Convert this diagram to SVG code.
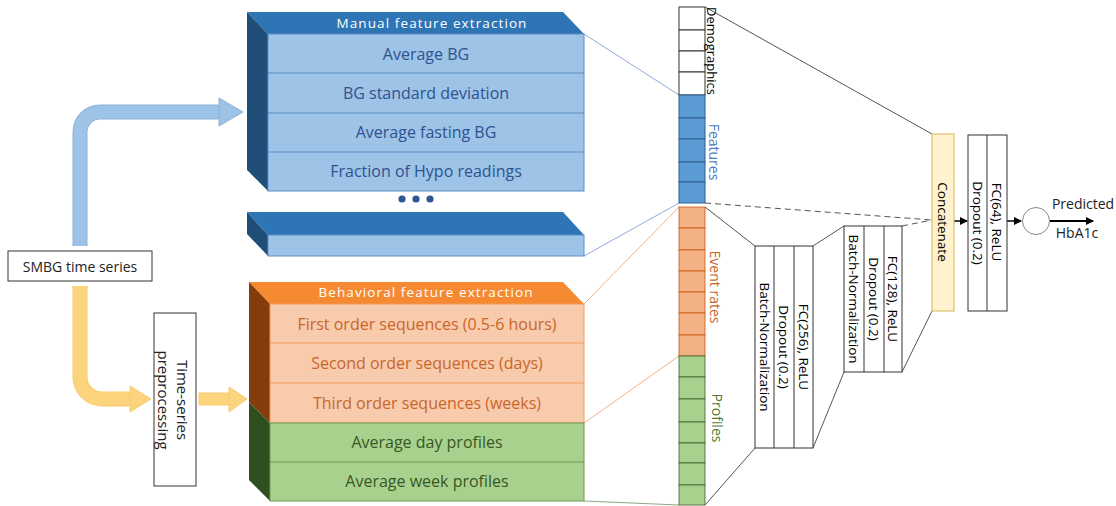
<svg xmlns="http://www.w3.org/2000/svg" width="1116" height="506" viewBox="0 0 1116 506">
<style>
.f{font-family:"Open Sans","Liberation Sans",sans-serif}
.c{text-anchor:middle;dominant-baseline:central}
.row{font-size:16px}
.hdr{font-size:13.5px;fill:#ffffff;letter-spacing:1.1px}
.net{font-size:13.5px;fill:#000}
.box{fill:#fff;stroke:#333;stroke-width:1}
.ln{stroke:#555;stroke-width:1;fill:none}
</style>
<defs>
<marker id="ah" markerWidth="8" markerHeight="8" refX="7" refY="4" orient="auto" markerUnits="userSpaceOnUse">
<path d="M0,0 L8,4 L0,8 z" fill="#000"/>
</marker>
</defs>
<rect width="1116" height="506" fill="#fff"/>

<g id="connectors">
<!-- big arrows -->
<path d="M80,246 V132 A20,20 0 0 1 100,112 H221" fill="none" stroke="#8fb3dc" stroke-width="15"/>
<path d="M80,246 V132 A20,20 0 0 1 100,112 H222" fill="none" stroke="#9dc3e6" stroke-width="13"/>
<polygon points="219,98 243,112 219,126" fill="#9dc3e6" stroke="#8fb3dc" stroke-width="1"/>
<path d="M80,286 V377 A22,22 0 0 0 102,399 H132" fill="none" stroke="#f8cc6c" stroke-width="15"/>
<path d="M80,286 V377 A22,22 0 0 0 102,399 H133" fill="none" stroke="#fdd47e" stroke-width="13"/>
<polygon points="130,386 151,399 130,412" fill="#fdd47e" stroke="#f8cc6c" stroke-width="1"/>
<rect x="199" y="393" width="31" height="12" fill="#fdd47e" stroke="#f8cc6c" stroke-width="1"/>
<polygon points="229,387 247,399 229,412" fill="#fdd47e" stroke="#f8cc6c" stroke-width="1"/>
<!-- block to column -->
<line x1="584" y1="34" x2="679" y2="95" stroke="#8faadc" stroke-width="1"/>
<line x1="584" y1="256" x2="679" y2="203" stroke="#8faadc" stroke-width="1"/>
<line x1="584" y1="304" x2="679" y2="207" stroke="#f4b183" stroke-width="1"/>
<line x1="584" y1="423" x2="679" y2="356" stroke="#f4b183" stroke-width="1"/>
<line x1="584" y1="501" x2="679" y2="505" stroke="#8fa88a" stroke-width="1"/>
<!-- column to network -->
<line class="ln" x1="705" y1="7" x2="932" y2="134"/>
<line class="ln" x1="705" y1="203" x2="932" y2="220" stroke-dasharray="6,4"/>
<line class="ln" x1="705" y1="207" x2="755" y2="246"/>
<line class="ln" x1="705" y1="505" x2="755" y2="448"/>
<line class="ln" x1="813" y1="246" x2="844" y2="226"/>
<line class="ln" x1="813" y1="448" x2="844" y2="372"/>
<line class="ln" x1="902" y1="226" x2="932" y2="220" stroke-dasharray="6,4"/>
<line class="ln" x1="902" y1="372" x2="932" y2="311"/>
<line x1="954" y1="221" x2="967" y2="221" stroke="#000" stroke-width="1.5" marker-end="url(#ah)"/>
<line x1="1007" y1="221" x2="1021" y2="221" stroke="#000" stroke-width="1.5" marker-end="url(#ah)"/>
<line x1="1050" y1="221" x2="1093" y2="221" stroke="#000" stroke-width="2" marker-end="url(#ah)"/>
</g>

<g id="smbg">
<rect x="8" y="251" width="144" height="30" class="box"/>
<text x="80" y="266" class="f c" font-size="14" fill="#222">SMBG time series</text>
</g>

<g id="preproc">
<rect x="154" y="313" width="42" height="173" class="box"/>
<text class="f c" font-size="15" fill="#222" transform="translate(183,400) rotate(90)">Time-series</text>
<text class="f c" font-size="15" fill="#222" transform="translate(164,400) rotate(90)">preprocessing</text>
</g>

<g id="manual">
<polygon points="247,12 563,12 584,34 268,34" fill="#2e75b6"/>
<polygon points="247,12 268,34 268,191 247,170" fill="#1f4e79"/>
<rect x="268" y="34" width="316" height="157" fill="#9dc3e6" stroke="#5b8ec6" stroke-width="1"/>
<line x1="268" y1="73" x2="584" y2="73" stroke="#5b8ec6"/>
<line x1="268" y1="113" x2="584" y2="113" stroke="#5b8ec6"/>
<line x1="268" y1="152" x2="584" y2="152" stroke="#5b8ec6"/>
<text x="432" y="23" class="f c hdr">Manual feature extraction</text>
<g class="f c row" fill="#2f5290">
<text x="426" y="54">Average BG</text>
<text x="426" y="93">BG standard deviation</text>
<text x="426" y="132">Average fasting BG</text>
<text x="426" y="171">Fraction of Hypo readings</text>
</g>
<circle cx="402" cy="199" r="3.6" fill="#2f5597"/>
<circle cx="416" cy="199" r="3.6" fill="#2f5597"/>
<circle cx="430" cy="199" r="3.6" fill="#2f5597"/>
</g>

<g id="manual2">
<polygon points="247,212 563,212 584,235 268,235" fill="#2e75b6"/>
<polygon points="247,212 268,235 268,256 247,234" fill="#1f4e79"/>
<rect x="268" y="235" width="316" height="21" fill="#9dc3e6" stroke="#5b8ec6" stroke-width="1"/>
</g>

<g id="behavioral">
<polygon points="249,282 563,282 584,304 270,304" fill="#f58a33"/>
<polygon points="249,282 270,304 270,423 249,402" fill="#843c0c"/>
<polygon points="249,402 270,423 270,501 249,480" fill="#2f4f1e"/>
<rect x="270" y="304" width="314" height="119" fill="#f8cbad" stroke="#f19a5c" stroke-width="1"/>
<line x1="270" y1="343" x2="584" y2="343" stroke="#f19a5c"/>
<line x1="270" y1="383" x2="584" y2="383" stroke="#f19a5c"/>
<rect x="270" y="423" width="314" height="78" fill="#a9d18e" stroke="#6f9a52" stroke-width="1"/>
<line x1="270" y1="462" x2="584" y2="462" stroke="#6f9a52"/>
<text x="426" y="292" class="f c hdr">Behavioral feature extraction</text>
<g class="f c row" fill="#c8662a">
<text x="427" y="324">First order sequences (0.5-6 hours)</text>
<text x="427" y="363">Second order sequences (days)</text>
<text x="427" y="403">Third order sequences (weeks)</text>
</g>
<g class="f c row" fill="#385723">
<text x="427" y="442">Average day profiles</text>
<text x="427" y="481">Average week profiles</text>
</g>
</g>

<g id="input-vector">
<g fill="#fff" stroke="#333" stroke-width="1">
<rect x="679" y="7" width="26" height="23"/>
<rect x="679" y="30" width="26" height="21"/>
<rect x="679" y="51" width="26" height="21"/>
<rect x="679" y="72" width="26" height="23"/>
</g>
<g fill="#5b9bd5" stroke="#2f5f8f" stroke-width="1">
<rect x="679" y="95" width="26" height="23"/>
<rect x="679" y="118" width="26" height="21"/>
<rect x="679" y="139" width="26" height="23"/>
<rect x="679" y="162" width="26" height="20"/>
<rect x="679" y="182" width="26" height="21"/>
</g>
<g fill="#f4b183" stroke="#c55a11" stroke-width="0.8">
<rect x="679" y="207" width="26" height="21"/>
<rect x="679" y="228" width="26" height="22"/>
<rect x="679" y="250" width="26" height="21"/>
<rect x="679" y="271" width="26" height="21"/>
<rect x="679" y="292" width="26" height="21"/>
<rect x="679" y="313" width="26" height="22"/>
<rect x="679" y="335" width="26" height="21"/>
</g>
<g fill="#a9d18e" stroke="#3f5f2a" stroke-width="0.8">
<rect x="679" y="356" width="26" height="21"/>
<rect x="679" y="377" width="26" height="22"/>
<rect x="679" y="399" width="26" height="23"/>
<rect x="679" y="422" width="26" height="21"/>
<rect x="679" y="443" width="26" height="20"/>
<rect x="679" y="463" width="26" height="22"/>
<rect x="679" y="485" width="26" height="20"/>
</g>
<text class="f c" font-size="13" fill="#000" transform="translate(712,51) rotate(90)">Demographics</text>
<text class="f c" font-size="14" fill="#4a7cc4" transform="translate(714,152) rotate(90)">Features</text>
<text class="f c" font-size="14" fill="#c8662a" transform="translate(715,287) rotate(90)">Event rates</text>
<text class="f c" font-size="14" fill="#4f7a32" transform="translate(717,418) rotate(90)">Profiles</text>
</g>

<g id="dense256">
<rect x="755" y="246" width="58" height="202" class="box"/>
<line x1="774" y1="246" x2="774" y2="448" stroke="#333"/>
<line x1="794" y1="246" x2="794" y2="448" stroke="#333"/>
<text class="f c net" font-size="13" transform="translate(764.5,347) rotate(90)">Batch-Normalization</text>
<text class="f c net" transform="translate(784,347) rotate(90)">Dropout (0.2)</text>
<text class="f c net" transform="translate(803.5,347) rotate(90)">FC(256), ReLU</text>
</g>

<g id="dense128">
<rect x="844" y="226" width="58" height="146" class="box"/>
<line x1="864" y1="226" x2="864" y2="372" stroke="#333"/>
<line x1="884" y1="226" x2="884" y2="372" stroke="#333"/>
<text class="f c net" font-size="11.5" transform="translate(854,299) rotate(90)">Batch-Normalization</text>
<text class="f c net" transform="translate(874,299) rotate(90)">Dropout (0.2)</text>
<text class="f c net" transform="translate(893,299) rotate(90)">FC(128), ReLU</text>
</g>

<g id="concatenate">
<rect x="932" y="134" width="22" height="177" fill="#fff2cc" stroke="#d6b656" stroke-width="1"/>
<text class="f c net" font-size="14" transform="translate(943,222) rotate(90)">Concatenate</text>
</g>

<g id="dense64">
<rect x="968" y="135" width="39" height="176" class="box"/>
<line x1="987" y1="135" x2="987" y2="311" stroke="#333"/>
<text class="f c net" transform="translate(977.5,223) rotate(90)">Dropout (0.2)</text>
<text class="f c net" transform="translate(997,222) rotate(90)">FC(64), ReLU</text>
</g>

<g id="output">
<circle cx="1036" cy="221" r="13.5" fill="#fff" stroke="#888" stroke-width="1"/>
<text x="1083" y="209" class="f" font-size="14" text-anchor="middle" fill="#222">Predicted</text>
<text x="1077" y="238" class="f" font-size="14" text-anchor="middle" fill="#222">HbA1c</text>
</g>
</svg>
